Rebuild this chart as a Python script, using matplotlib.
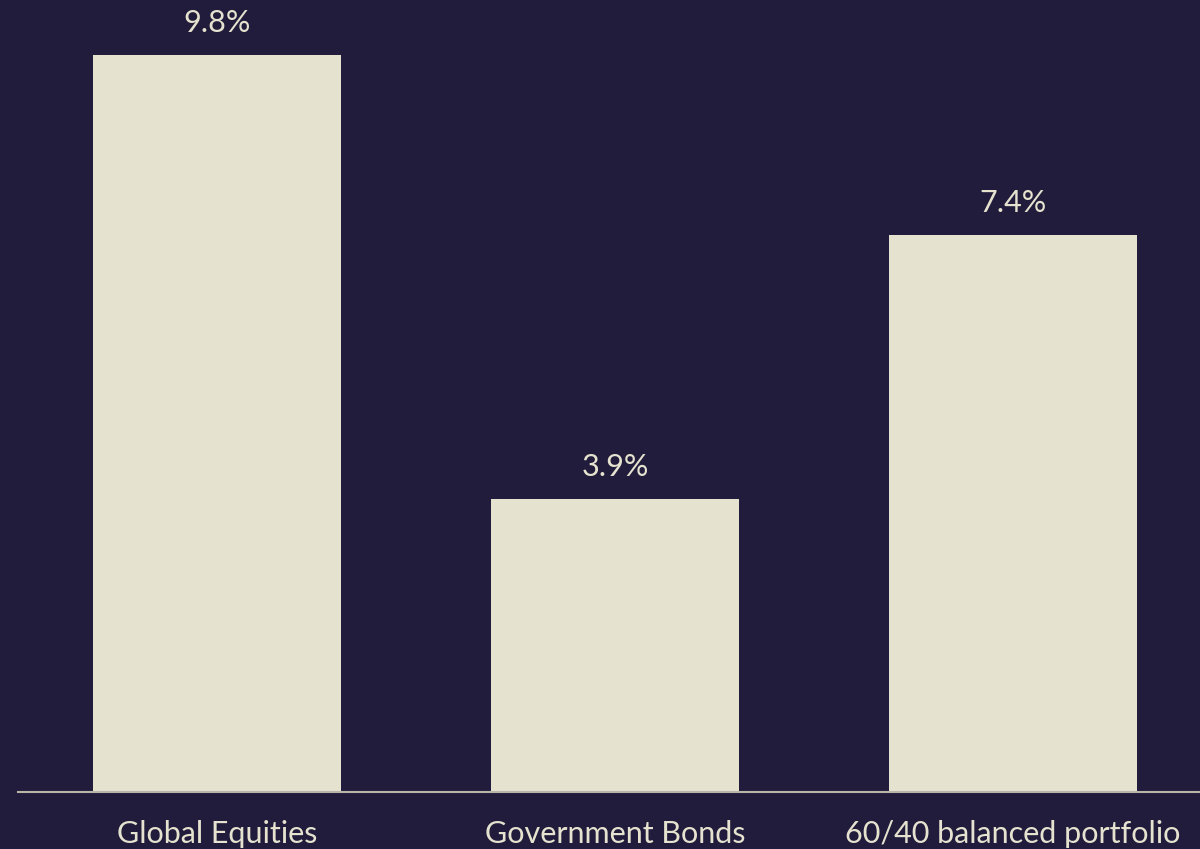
import matplotlib.pyplot as plt

# Données
categories = ["Global Equities", "Government Bonds", "60/40 balanced portfolio"]
valeurs = [9.8, 3.9, 7.4]
etiquettes = ["9.8%", "3.9%", "7.4%"]

fond = "#221c3c"
creme = "#e5e3cf"

plt.rcParams["font.family"] = ["Lato", "DejaVu Sans"]

fig = plt.figure(figsize=(12, 8.49), dpi=100, facecolor=fond)
ax = fig.add_axes([0.015, 0.0671, 0.995, 0.9329], facecolor=fond)

x = range(len(categories))
barres = ax.bar(x, valeurs, width=0.622, color=creme, zorder=2)

for b, txt in zip(barres, etiquettes):
    ax.annotate(txt, (b.get_x() + b.get_width() / 2, b.get_height()),
                xytext=(0, 13), textcoords="offset points",
                ha="center", va="bottom", color=creme, fontsize=22)

ax.set_xlim(-0.5, 2.5)
ax.set_ylim(0, 10.53)
ax.set_xticks(list(x))
ax.set_xticklabels(categories, color=creme, fontsize=22)
ax.tick_params(axis="x", length=0, pad=20)
ax.set_yticks([])
for side in ["top", "right", "left"]:
    ax.spines[side].set_visible(False)
ax.spines["bottom"].set_color("#b8b6a8")
ax.spines["bottom"].set_linewidth(1.5)

fig.savefig("out.png", dpi=100, facecolor=fond)
